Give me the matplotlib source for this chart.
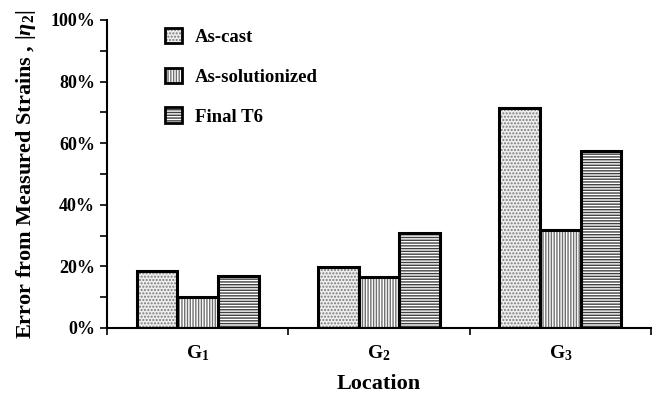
import matplotlib
matplotlib.use("Agg")
import matplotlib.pyplot as plt
import numpy as np
from matplotlib.patches import Patch
from matplotlib.legend_handler import HandlerTuple

plt.rcParams['font.family'] = 'Liberation Serif'
plt.rcParams['font.weight'] = 'bold'
plt.rcParams['mathtext.fontset'] = 'custom'
plt.rcParams['mathtext.rm'] = 'Liberation Serif:bold'
plt.rcParams['mathtext.it'] = 'Liberation Serif:italic:bold'
plt.rcParams['mathtext.bf'] = 'Liberation Serif:bold'
plt.rcParams['hatch.linewidth'] = 1.0

# data (percent)
locations = ['G$_1$', 'G$_2$', 'G$_3$']
as_cast = [18.5, 19.8, 71.3]
as_solutionized = [10.1, 16.6, 31.8]
final_t6 = [17.0, 30.9, 57.6]
series_names = ['As-cast', 'As-solutionized', 'Final T6']

# style of each series: face, hatch, hatch colour
styles = [('#eeeeee', '.....', '#7a7a7a'),
          ('white', '||||||', '#707070'),
          ('white', '------', '#404040')]

fig = plt.figure(figsize=(6.59, 4.0), dpi=100)
ax = fig.add_axes([0.1624, 0.18, 0.8256, 0.77])

x = np.arange(len(locations)) + 0.5
w = 0.224
handles = []
for i, (vals, (fc, hatch, hc)) in enumerate(zip([as_cast, as_solutionized, final_t6], styles)):
    pos = x + (i - 1) * w
    # hatch layer, then black outline on top
    ax.bar(pos, vals, w, color=fc, hatch=hatch, edgecolor=hc, linewidth=0, zorder=2)
    ax.bar(pos, vals, w, fill=False, edgecolor='black', linewidth=2.2, zorder=3)
    h1 = Patch(facecolor=fc, hatch=hatch, edgecolor=hc, linewidth=0)
    h2 = Patch(fill=False, edgecolor='black', linewidth=2.0)
    handles.append((h1, h2))

ax.set_xlim(0, 3)
ax.set_ylim(0, 100)
ax.spines['top'].set_visible(False)
ax.spines['right'].set_visible(False)
ax.spines['left'].set_linewidth(1.5)
ax.spines['bottom'].set_linewidth(1.5)

ax.set_yticks(np.arange(0, 101, 20))
ax.set_yticklabels([f'{v}%' for v in range(0, 101, 20)])
ax.set_yticks(np.arange(10, 100, 20), minor=True)
ax.set_xticks([0, 1, 2, 3])
ax.set_xticklabels([])
ax.set_xticks(x, minor=True)
ax.set_xticklabels(locations, minor=True)
ax.tick_params(axis='x', which='minor', length=0, pad=11, labelsize=14)
ax.tick_params(axis='x', which='major', length=5, width=1.2, direction='out')
ax.tick_params(axis='y', which='both', length=5, width=1.2, direction='out', labelsize=13)

ax.set_xlabel('Location', fontsize=16, fontweight='bold', labelpad=8)
ax.set_ylabel('Error from Measured Strains , $|\\eta_2|$', fontsize=16,
              fontweight='bold', labelpad=9)

ax.legend(handles, series_names, handler_map={tuple: HandlerTuple(ndivide=1)},
          loc='upper left', bbox_to_anchor=(0.107, 0.975), frameon=False,
          borderpad=0, borderaxespad=0, handlelength=0.9, handleheight=0.9,
          handletextpad=0.7, labelspacing=1.15, prop={'size': 13.5, 'weight': 'bold'})

fig.savefig('out.png', dpi=100)
